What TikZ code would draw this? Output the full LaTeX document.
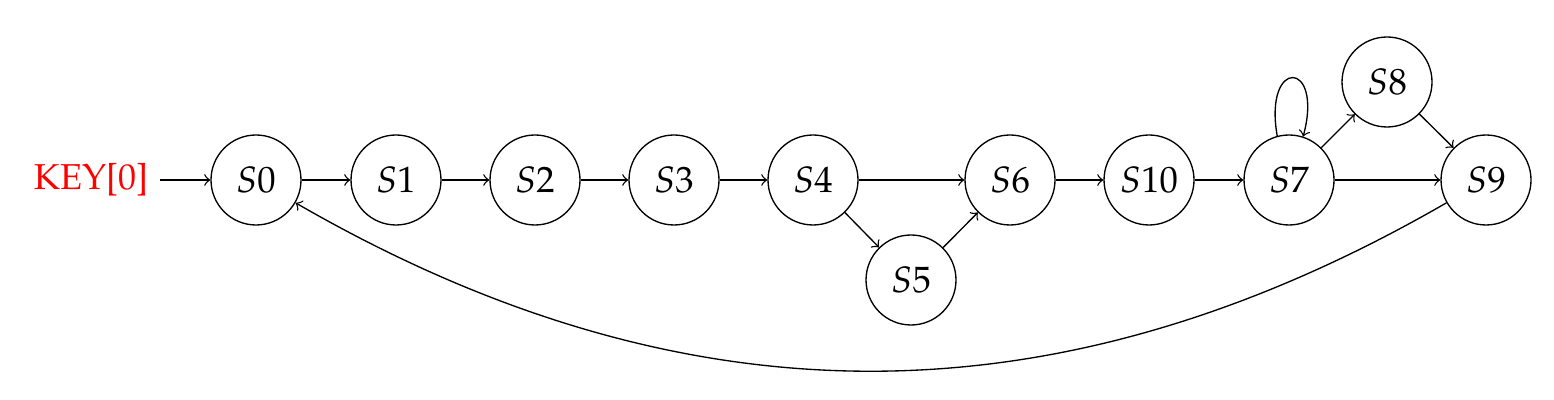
\documentclass[tikz,border=0pt]{standalone}
\usepackage[T1]{fontenc}
\usepackage{mathpazo}
\begin{document}
\begin{tikzpicture}[x=0.3pt,y=-0.3pt,
  state/.style={draw,circle,minimum size=27pt,inner sep=0pt,font=\fontsize{11}{13}\selectfont},
  edge/.style={->,thin}]
\useasboundingbox (0,0) rectangle (1554,400);
\node[text=red,font=\fontsize{10.8}{13}\selectfont] (key) at (91,180) {KEY[0]};
\node[state] (S0) at (256,180) {$S0$};
\node[state] (S1) at (396,180) {$S1$};
\node[state] (S2) at (535,180) {$S2$};
\node[state] (S3) at (674,180) {$S3$};
\node[state] (S4) at (813,180) {$S4$};
\node[state] (S5) at (911,280) {$S5$};
\node[state] (S6) at (1010,180) {$S6$};
\node[state] (S10) at (1149,180) {$S10$};
\node[state] (S7) at (1289,180) {$S7$};
\node[state] (S8) at (1387,82) {$S8$};
\node[state] (S9) at (1486,180) {$S9$};
\draw[edge] (key) -- (S0);
\draw[edge] (S0) -- (S1);
\draw[edge] (S1) -- (S2);
\draw[edge] (S2) -- (S3);
\draw[edge] (S3) -- (S4);
\draw[edge] (S4) -- (S6);
\draw[edge] (S4) -- (S5);
\draw[edge] (S5) -- (S6);
\draw[edge] (S6) -- (S10);
\draw[edge] (S10) -- (S7);
\draw[edge] (S7) -- (S9);
\draw[edge] (S7) -- (S8);
\draw[edge] (S8) -- (S9);
\draw[edge] (S7.105) .. controls +(-100:80) and +(-75:80) .. (S7.72);
\draw[edge] (S9) to[bend left=30] (S0);
\end{tikzpicture}
\end{document}
